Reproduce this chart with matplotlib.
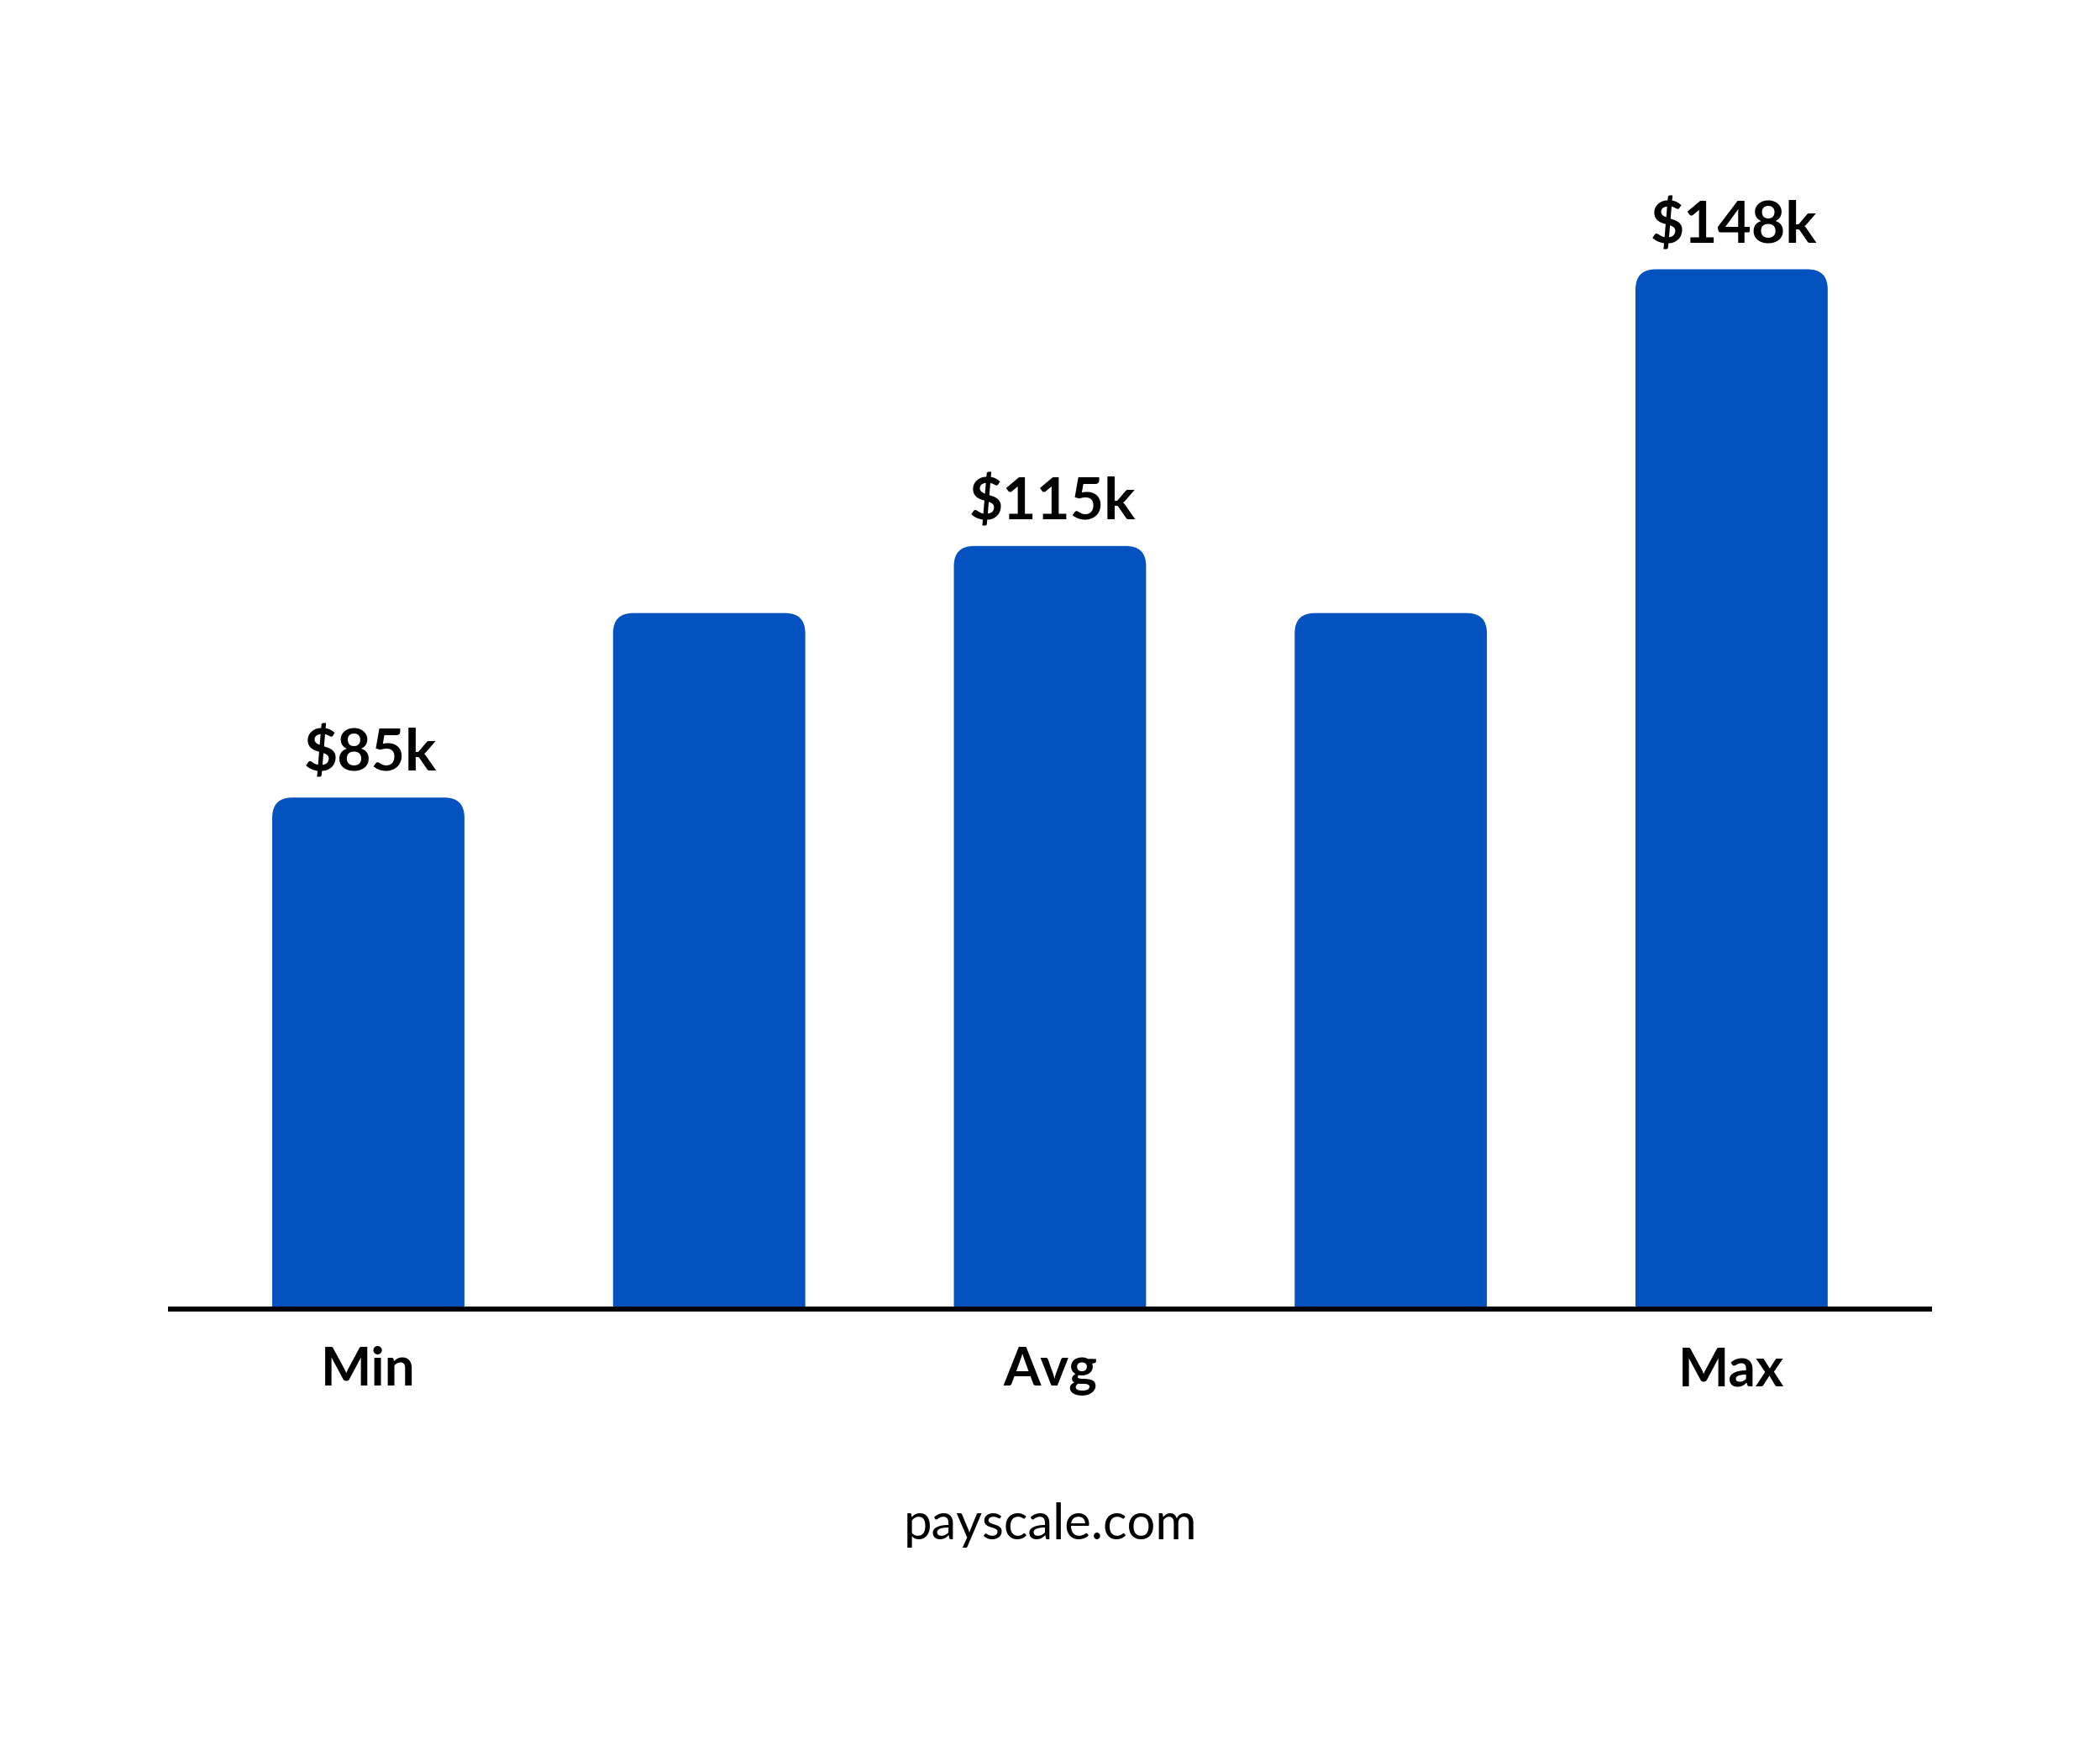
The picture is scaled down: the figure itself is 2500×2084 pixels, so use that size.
import matplotlib
matplotlib.use("Agg")
import matplotlib.pyplot as plt
from matplotlib.patches import FancyBboxPatch

# ---- data ----
categories = ["Min", "", "Avg", "", "Max"]
values_k = [85, 107, 115, 107, 148]
value_labels = ["$85k", "", "$115k", "", "$148k"]
source = "payscale.com"

BLUE = "#0452BF"
W, H, DPI = 25.0, 20.84, 100

fig = plt.figure(figsize=(W, H), dpi=DPI)
fig.patch.set_facecolor("white")

# axes geometry (in pixels of the 2500x2084 canvas)
left_px, right_px = 200, 2300
base_px, top_px = 1558, 200
ax = fig.add_axes([left_px / 2500, (2084 - base_px) / 2084,
                   (right_px - left_px) / 2500, (base_px - top_px) / 2084])

ymin = 24.0
ymax = ymin + (base_px - top_px) / 9.98
xmin, xmax = -0.5878, 4.588
ax.set_xlim(xmin, xmax)
ax.set_ylim(ymin, ymax)

x = list(range(len(values_k)))
bar_w = 0.564
bars = ax.bar(x, [v - ymin for v in values_k], width=bar_w, bottom=ymin, color=BLUE)

# pixel-per-unit for round corners
px_per_x = (right_px - left_px) / (xmax - xmin)
px_per_y = (base_px - top_px) / (ymax - ymin)
aspect = px_per_x / px_per_y
r_px = 24
for rect in bars:
    bx, by = rect.get_x(), rect.get_y()
    bw, bh = rect.get_width(), rect.get_height()
    rect.set_visible(False)
    ext = 3.0
    p = FancyBboxPatch((bx, by - ext), bw, bh + ext,
                       boxstyle=f"round,pad=0,rounding_size={r_px / px_per_x}",
                       mutation_aspect=aspect, facecolor=BLUE, edgecolor="none",
                       clip_on=True, zorder=2)
    ax.add_patch(p)

for xi, v, lab in zip(x, values_k, value_labels):
    if lab:
        ax.annotate(lab, (xi, v), xytext=(2, 14), textcoords="offset points",
                    ha="center", va="bottom", fontsize=50, fontweight="bold",
                    family="Lato", color="black")

ax.axhline(ymin, color="black", lw=4.3, zorder=3, clip_on=False,
           solid_capstyle="butt")

for s in ax.spines.values():
    s.set_visible(False)
ax.set_yticks([])
ax.set_xticks(x)
ax.set_xticklabels(categories, fontsize=46, fontweight="bold", family="Lato")
ax.tick_params(axis="x", length=0, pad=32)

fig.text(0.5, (2084 - 1832) / 2084, source, ha="center", va="baseline",
         fontsize=43, family="Lato", fontweight="normal", color="black")

fig.savefig("out.png", dpi=DPI, facecolor="white")
